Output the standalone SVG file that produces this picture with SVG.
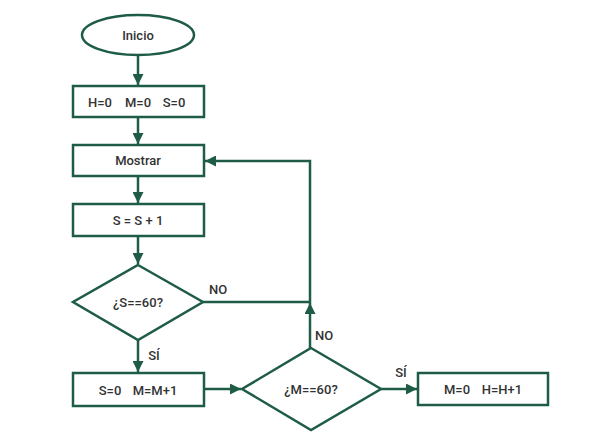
<svg xmlns="http://www.w3.org/2000/svg" width="600" height="440" viewBox="0 0 600 440">
<defs>
<marker id="ah" viewBox="0 0 10 10" refX="10" refY="5" markerWidth="4.4" markerHeight="4.4" orient="auto" markerUnits="strokeWidth">
<path d="M0,0 L10,5 L0,10 z" fill="#1f5c46"/>
</marker>
</defs>
<style>
.s{fill:#fff;stroke:#1f5c46;stroke-width:2.5}
.c{fill:none;stroke:#1f5c46;stroke-width:2.5;marker-end:url(#ah)}
text{font-family:Roboto,"Liberation Sans",sans-serif;font-weight:500;font-size:13px;fill:#333;text-anchor:middle;dominant-baseline:central}
</style>
<rect width="600" height="440" fill="#fff"/>
<g id="connectors">
<line class="c" x1="138" y1="56" x2="138" y2="85"/>
<line class="c" x1="138" y1="118" x2="138" y2="144"/>
<line class="c" x1="138" y1="177" x2="138" y2="203"/>
<line class="c" x1="138" y1="237" x2="138" y2="264"/>
<line class="c" x1="138" y1="340" x2="138" y2="372"/>
<polyline class="c" points="203,302 310,302 310,161 205,161"/>
<line class="c" x1="310" y1="348" x2="310" y2="303"/>
<line class="c" x1="205" y1="389" x2="241" y2="389"/>
<line class="c" x1="381" y1="389" x2="417" y2="389"/>
<text x="218" y="289">NO</text>
<text x="154" y="355">SÍ</text>
<text x="324" y="335">NO</text>
<text x="401" y="372">SÍ</text>
</g>
<g id="inicio"><ellipse class="s" cx="138" cy="35" rx="56" ry="20"/><text x="138" y="35">Inicio</text></g>
<g id="init"><rect class="s" x="73" y="86" width="131" height="31"/><text y="101.5"><tspan x="100">H=0</tspan><tspan x="138">M=0</tspan><tspan x="174">S=0</tspan></text></g>
<g id="mostrar"><rect class="s" x="73" y="145" width="131" height="31"/><text x="138" y="160.5">Mostrar</text></g>
<g id="inc"><rect class="s" x="73" y="204" width="131" height="32"/><text x="138" y="220">S = S + 1</text></g>
<g id="dS"><polygon class="s" points="138,265 203,302 138,340 73,302"/><text x="138" y="302">¿S==60?</text></g>
<g id="resetS"><rect class="s" x="73" y="373" width="131" height="33"/><text y="389.5"><tspan x="110">S=0</tspan><tspan x="155">M=M+1</tspan></text></g>
<g id="dM"><polygon class="s" points="311,348 381,389 311,430 242,389"/><text x="311" y="389">¿M==60?</text></g>
<g id="resetM"><rect class="s" x="418" y="373" width="130" height="32"/><text y="389"><tspan x="457">M=0</tspan><tspan x="502">H=H+1</tspan></text></g>
</svg>
